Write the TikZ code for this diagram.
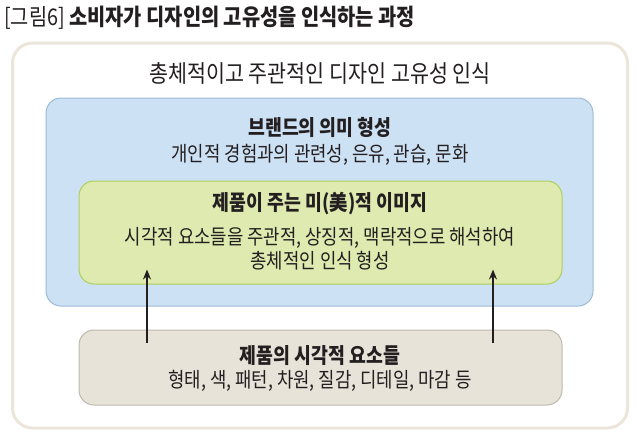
\documentclass[tikz,border=0pt]{standalone}
\usepackage{fontspec}
\setmainfont[FakeStretch=0.86]{Noto Sans CJK KR}
\usetikzlibrary{arrows.meta,positioning}
\definecolor{fgText}{HTML}{231F20}
\definecolor{fgFrame}{HTML}{ECE6DA}
\definecolor{fgBrand}{HTML}{CDE1F5}
\definecolor{fgBrandLine}{HTML}{9CBBD6}
\definecolor{fgAes}{HTML}{DEEAAF}
\definecolor{fgAesLine}{HTML}{AFCF5C}
\definecolor{fgElem}{HTML}{E7E3D9}
\definecolor{fgElemLine}{HTML}{BFB9AD}
\tikzset{
  fg/.style={x=1pt, y=-1pt, text=fgText, >={Stealth[length=10pt, width=8pt]}},
  box/.style={rounded corners=15pt, line width=1pt, inner sep=0pt},
  frame/.style={box, draw=fgFrame, fill=white, line width=3pt, rounded corners=20pt, minimum width=615pt, minimum height=385pt},
  brand/.style={box, draw=fgBrandLine, fill=fgBrand, minimum width=547pt, minimum height=208pt},
  aes/.style={box, draw=fgAesLine, fill=fgAes, minimum width=483pt, minimum height=103pt},
  elem/.style={box, draw=fgElemLine, fill=fgElem, minimum width=483pt, minimum height=75pt},
  caption/.style={font=\fontsize{23}{26}\selectfont, anchor=west, inner sep=0pt},
  whole/.style={font=\fontsize{24}{28}\selectfont, inner sep=0pt},
  head/.style={font=\fontsize{21.3}{25}\selectfont\bfseries, inner sep=0pt},
  body/.style={font=\fontsize{20.7}{24}\selectfont, inner sep=0pt},
  up/.style={->, draw=fgText, line width=1.5pt},
}
\begin{document}
\begin{tikzpicture}[fg]
\useasboundingbox (0,0) rectangle (640,437);
% caption
\node[caption] (cap) at (4,18) {[그림6] \textbf{소비자가 디자인의 고유성을 인식하는 과정}};
% boxes
\node[frame] (outer) at (320,235.5) {};
\node[brand] (brand) at (319.5,202) {};
\node[aes]   (aes)   at (320.5,232.5) {};
\node[elem]  (elem)  at (320.5,367.5) {};
% texts
\node[whole] (wholeT) at (320,73) {총체적이고 주관적인 디자인 고유성 인식};
\node[head] (brandH) at (320,127) {브랜드의 의미 형성};
\node[body] (brandB) at (320,155) {개인적 경험과의 관련성, 은유, 관습, 문화};
\node[head] (aesH) at (320,204) {제품이 주는 미(美)적 이미지};
\node[body] (aesB1) at (320,238) {시각적 요소들을 주관적, 상징적, 맥락적으로 해석하여};
\node[body] (aesB2) at (320,261) {총체적인 인식 형성};
\node[head] (elemH) at (320,356) {제품의 시각적 요소들};
\node[body] (elemB) at (320,381) {형태, 색, 패턴, 차원, 질감, 디테일, 마감 등};
% arrows
\draw[up] ([xshift=-173.5pt,yshift=-13pt]elem.north) -- ([xshift=-173.5pt,yshift=15pt]aes.south);
\draw[up] ([xshift=172.5pt,yshift=-13pt]elem.north) -- ([xshift=172.5pt,yshift=15pt]aes.south);
\end{tikzpicture}
\end{document}
